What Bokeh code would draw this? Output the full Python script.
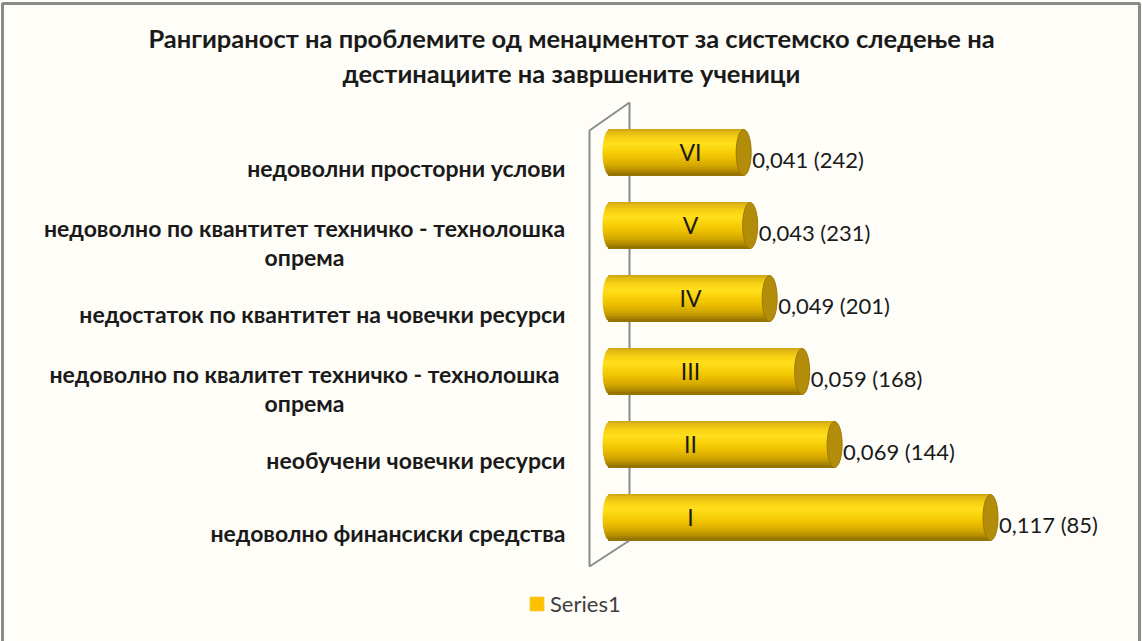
import numpy as np
from bokeh.plotting import figure
from bokeh.models import Range1d, ColumnDataSource, Legend, LegendItem
from bokeh.core.properties import value
from bokeh.embed import file_html
from bokeh.resources import INLINE

# ---------------- data ----------------
categories = [
    "недоволно финансиски средства",
    "необучени човечки ресурси",
    "недоволно по квалитет техничко - технолошка\nопрема",
    "недостаток по квантитет на човечки ресурси",
    "недоволно по квантитет техничко - технолошка\nопрема",
    "недоволни просторни услови",
]
ranks = ["I", "II", "III", "IV", "V", "VI"]
values = [0.117, 0.069, 0.059, 0.049, 0.043, 0.041]
counts = [85, 144, 168, 201, 231, 242]
title_lines = [
    "Рангираност на проблемите од менаџментот за системско следење на",
    "дестинациите на завршените ученици",
]
series_name = "Series1"

# ---------------- layout ----------------
W, H = 1142, 641
X0, S = 610.0, 3248.0      # pixel of value 0, pixels per unit
Y0, DY = 517.0, 73.0       # pixel of first category centre, pixels per category
BAR_PX = 46.0
CAP_PX = 15.0
FONT = "Lato"
BG = "#FEFDF8"


def px2x(px):
    return (px - X0) / S


def px2y(py):
    return (Y0 - py) / DY


p = figure(width=W, height=H, output_backend="svg", toolbar_location=None,
           x_range=Range1d(px2x(0), px2x(W)), y_range=Range1d(px2y(H), px2y(0)),
           min_border=0, background_fill_color=BG, border_fill_color=BG)
p.axis.visible = False
p.grid.visible = False
p.outline_line_color = None

# outer chart border (left, top, right)
p.line(x=[px2x(2), px2x(2), px2x(1139), px2x(1139)],
       y=[px2y(H + 5), px2y(3), px2y(3), px2y(H + 5)],
       line_color="#8a8a8a", line_width=3)

# back wall vertical line (behind bars)
p.line(x=[px2x(629), px2x(629)], y=[px2y(102), px2y(540)],
       line_color="#8c8c8c", line_width=2)

# ---------------- cylinder bars ----------------
stops_t = [0.0, 0.06, 0.18, 0.32, 0.45, 0.62, 0.8, 0.92, 1.0]
stops_c = ["#C9A214", "#E2B814", "#F6CF12", "#FFE01C", "#FAD40C", "#EEC100",
           "#D2A600", "#B08800", "#8C6C00"]


def hex2rgb(h):
    h = h.lstrip("#")
    return np.array([int(h[i:i + 2], 16) for i in (0, 2, 4)], dtype=float)


stops_rgb = np.array([hex2rgb(c) for c in stops_c])


def grad(t):
    rgb = [np.interp(t, stops_t, stops_rgb[:, k]) for k in range(3)]
    return "#%02x%02x%02x" % tuple(int(round(v)) for v in rgb)


N = 23
h_data = BAR_PX / DY
a_data = (CAP_PX / 2) / S
ys, lefts, rights, cols = [], [], [], []
for i, v in enumerate(values):
    for j in range(N):
        t = (j + 0.5) / N
        u = 2 * t - 1
        ys.append(i + (0.5 - t) * h_data)
        lefts.append(-a_data * np.sqrt(max(0.0, 1 - u * u)))
        rights.append(v)
        cols.append(grad(t))
band_src = ColumnDataSource(dict(y=ys, left=lefts, right=rights, color=cols))
p.hbar(y="y", left="left", right="right", height=h_data / N,
       fill_color="color", line_color="color", line_width=1, source=band_src)

idx = list(range(len(values)))
p.ellipse(x=values, y=idx, width=CAP_PX, height=BAR_PX,
          width_units="screen", height_units="screen",
          fill_color="#B38C0A", line_color="#9E7A06", line_width=1)

# front wall lines
p.line(x=[px2x(629), px2x(589), px2x(589), px2x(629)],
       y=[px2y(102), px2y(130), px2y(566), px2y(540)],
       line_color="#8c8c8c", line_width=2)

# rank labels inside bars
p.text(x=[px2x(690)] * len(ranks), y=[i + 1 / DY for i in idx], text=ranks,
       text_font=value(FONT), text_font_size="23px", text_color="#1a1a1a",
       text_align="center", text_baseline="middle")

# value labels
dl = [("%.3f" % v).replace(".", ",") + " (%d)" % c for v, c in zip(values, counts)]
p.text(x=[v + (CAP_PX / 2 + 1) / S for v in values], y=[i - 7 / DY for i in idx],
       text=dl, text_font=value(FONT), text_font_size="22px", text_color="#1a1a1a",
       text_align="left", text_baseline="middle")

# category labels
single = [(i, c) for i, c in enumerate(categories) if "\n" not in c]
multi = [(i, c) for i, c in enumerate(categories) if "\n" in c]
p.text(x=[px2x(565)] * len(single), y=[i - 15 / DY for i, _ in single],
       text=[c for _, c in single], text_font=value(FONT), text_font_size="23px",
       text_font_style="bold", text_color="#1a1a1a",
       text_align="right", text_baseline="middle")
p.text(x=[px2x(304)] * len(multi), y=[i - 17 / DY for i, _ in multi],
       text=[c for _, c in multi], text_font=value(FONT), text_font_size="23px",
       text_font_style="bold", text_color="#1a1a1a", text_line_height=1.03,
       text_align="center", text_baseline="middle")

# title
p.text(x=[px2x(571)] * 2, y=[px2y(37), px2y(72)], text=title_lines,
       text_font=value(FONT), text_font_size="25.5px", text_font_style="bold",
       text_color="#1a1a1a", text_align="center", text_baseline="middle")

# legend
leg_r = p.hbar(y=[np.nan], left=[np.nan], right=[np.nan], height=1,
               fill_color="#FFC000", line_color="#FFC000")
legend = Legend(items=[LegendItem(label=series_name, renderers=[leg_r])],
                location=(528, 24), orientation="horizontal",
                glyph_width=17, glyph_height=17, label_standoff=5,
                label_text_font=FONT, label_text_font_size="22px",
                label_text_color="#404040", label_height=17,
                background_fill_alpha=0, border_line_alpha=0, padding=0, margin=0)
p.add_layout(legend, "center")

open("out.html", "w").write(file_html(p, INLINE))
